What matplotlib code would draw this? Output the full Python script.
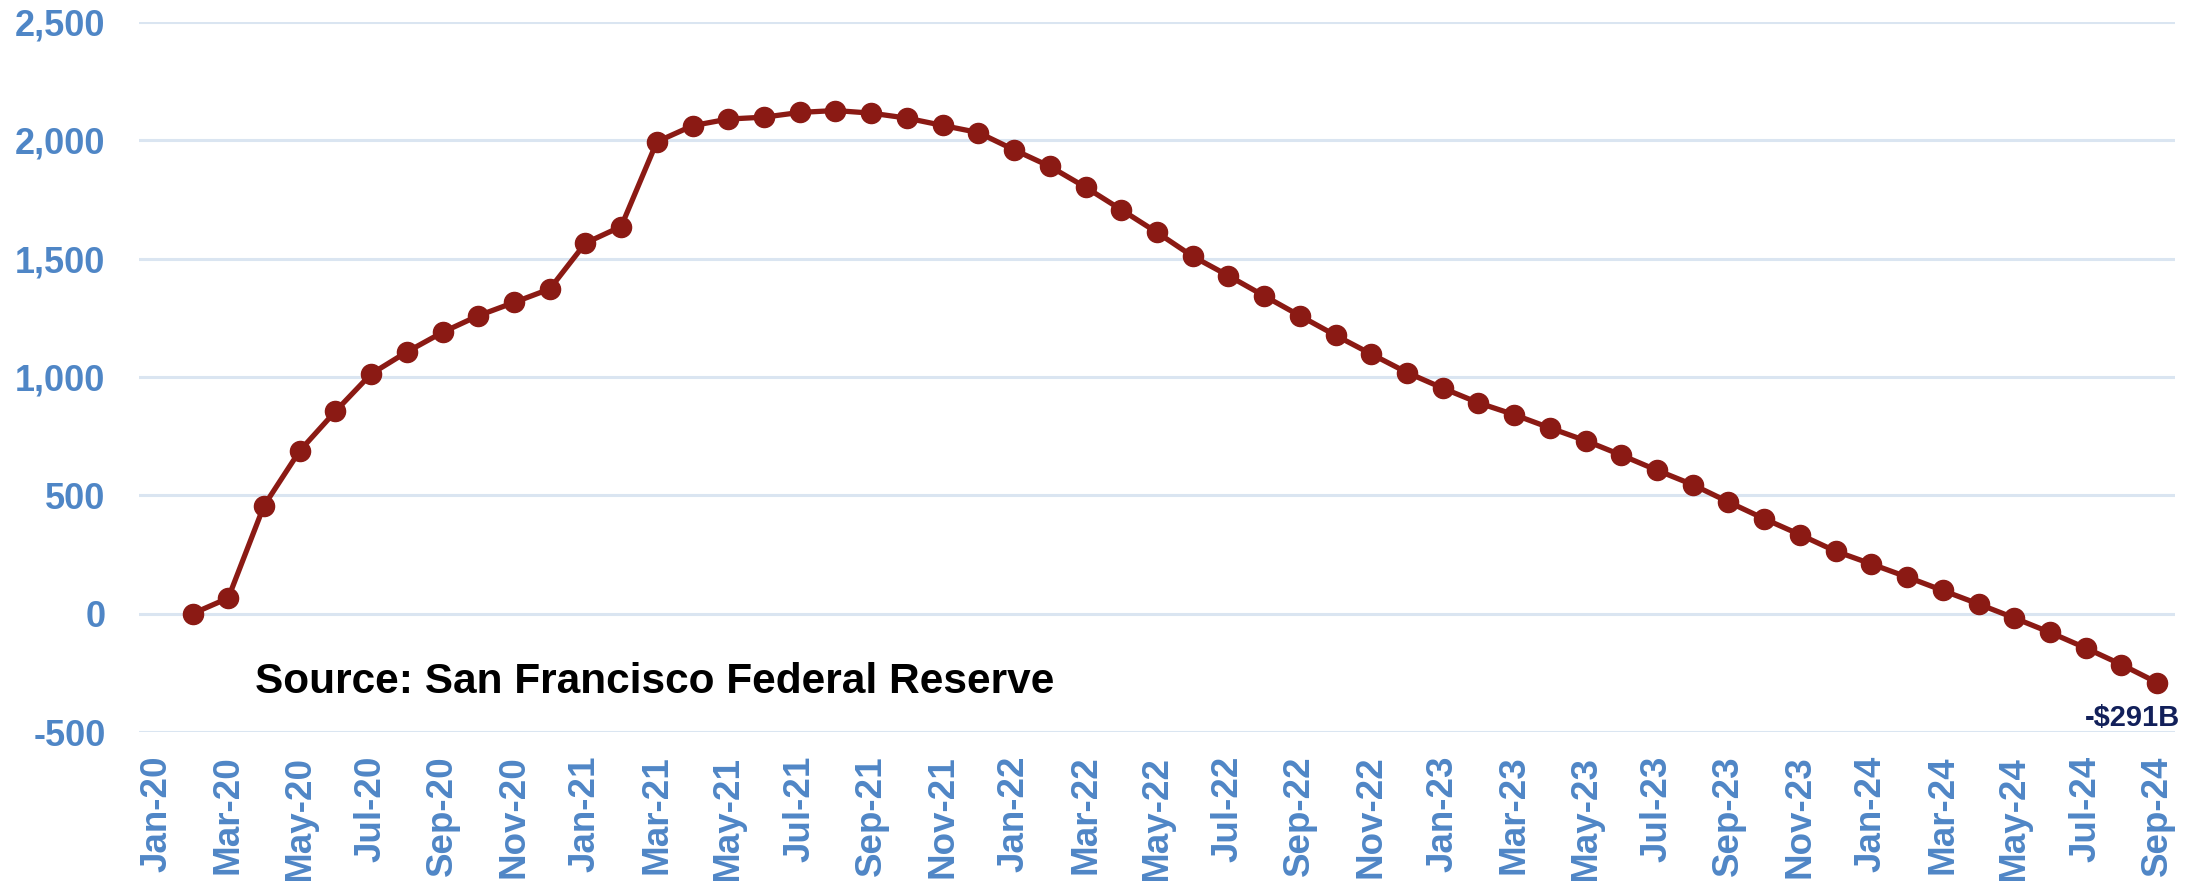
import numpy as np
import pandas as pd
from matplotlib import pyplot as plt

plt.rcParams['font.family'] = ['Liberation Sans', 'DejaVu Sans']

# monthly axis, Jan-20 .. Sep-24 (Jan-20 has no value)
months = pd.date_range('2020-01-01', '2024-09-01', freq='MS')
month_labels = [m.strftime('%b-%y') for m in months]

# excess savings, $B, Feb-20 .. Sep-24
savings_2020 = [0, 66, 456, 688, 855, 1013, 1106, 1189, 1259, 1315, 1372]
savings_2021 = [1566, 1636, 1994, 2062, 2090, 2098, 2118, 2126, 2115, 2094, 2063, 2033]
savings_2022 = [1960, 1890, 1802, 1707, 1611, 1510, 1428, 1343, 1259, 1176, 1097, 1019]
savings_2023 = [953, 891, 841, 785, 731, 670, 606, 545, 472, 401, 334, 264]
savings_2024 = [210, 155, 98, 41, -18, -79, -145, -215, -291]

savings = np.array([np.nan] + savings_2020 + savings_2021 + savings_2022
                   + savings_2023 + savings_2024)
y_ticks = [-500, 0, 500, 1000, 1500, 2000, 2500]

blue = '#4F86C6'
red = '#8B1A14'

fig = plt.figure(figsize=(22.09, 8.81), dpi=100)
ax = fig.add_axes([0.0629, 0.1691, 0.9217, 0.8059])

x = np.arange(len(months))
ax.plot(x, savings, color=red, lw=3.8, marker='o', ms=14.5, zorder=3)

ax.set_xlim(-0.5, len(months) - 0.5)
ax.set_ylim(-500, 2500)
ax.set_yticks(y_ticks)
ax.set_yticklabels([f'{v:,}' for v in y_ticks])
ax.set_xticks(x[::2])
ax.set_xticklabels(month_labels[::2], rotation=90)

ax.grid(axis='y', color='#DAE5F1', lw=2.2, zorder=0)
ax.set_axisbelow(True)
for s in ax.spines.values():
    s.set_visible(False)

ax.tick_params(axis='y', length=0, pad=24, labelsize=26, labelcolor=blue)
ax.tick_params(axis='x', length=0, pad=17, labelsize=26.5, labelcolor=blue)
for lbl in ax.get_xticklabels() + ax.get_yticklabels():
    lbl.set_fontweight('bold')

ax.text(0.057, 0.055, 'Source: San Francisco Federal Reserve', transform=ax.transAxes,
        fontsize=30.5, fontweight='bold', color='black', va='baseline', ha='left')

# end-of-series callout
last = savings[-1]
ax.annotate(f'-${abs(last):.0f}B', xy=(x[-1], last), xytext=(16.5, -31.5),
            textcoords='offset points', ha='right', va='baseline',
            fontsize=21, fontweight='bold', color='#12205A')

fig.savefig('out.png', dpi=100)
